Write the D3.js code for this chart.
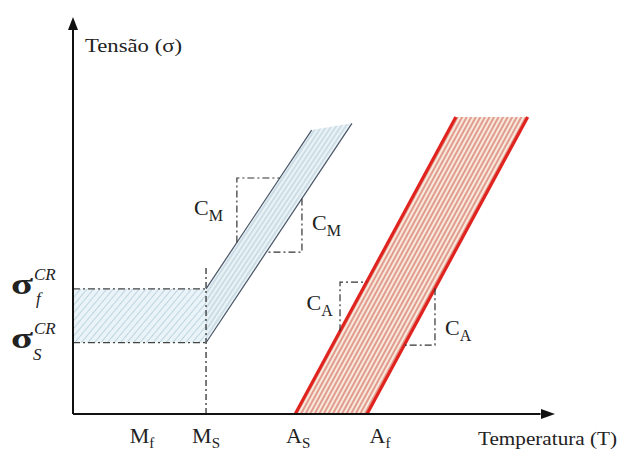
<!DOCTYPE html>
<meta charset="utf-8">
<script src="https://d3js.org/d3.v7.min.js"></script>
<style>
  body { margin: 0; background: #fff; }
  text { font-family: "Liberation Serif", "Times New Roman", serif; fill: #222; }
</style>
<body>
<div id="chart"></div>
<script>
// characteristic temperatures (arbitrary units along T)
var tempNames  = ["M", "M", "A", "A"];
var tempSubs   = ["f", "S", "S", "f"];
var tempValues = [14.3, 27.6, 46.1, 61.0];
var tempLabelShift = [0, 0, 3, 13];

// critical stresses (arbitrary units along sigma)
var stressSubs   = ["f", "S"];
var stressValues = [31.6, 18.0];

// slopes of the transformation lines
var slopeCM = 1.83, slopeCA = 2.25;
var topM = [71.7, 73.4];     // top of upper / lower martensite lines
var topA = 75;               // top of austenite band
var msLineTop = 37.6;

// slope triangle corners [T, sigma] and their labels
var cmCorners = [[34.0, 59.6], [47.5, 40.9]];
var caCorners = [[55.4, 33.3], [75.1, 17.4]];
var slopeLabels = [
  {c: "C", s: "M", t: 31.1, v: 50.3, anchor: "end"},
  {c: "C", s: "M", t: 49.6, v: 46.5, anchor: "start"},
  {c: "C", s: "A", t: 53.9, v: 26.3, anchor: "end"},
  {c: "C", s: "A", t: 77.2, v: 19.9, anchor: "start"}
];

var W = 620, H = 454;
var svg = d3.select("#chart").append("svg").attr("width", W).attr("height", H);

var x = d3.scaleLinear().domain([0, 100]).range([73, 555]);
var y = d3.scaleLinear().domain([0, 100]).range([414, 18]);

var Ms = tempValues[1], As = tempValues[2], Af = tempValues[3];
var sigF = stressValues[0], sigS = stressValues[1];

// hatch patterns
var defs = svg.append("defs");
function hatch(id, bg, fg, gap, lw, angle) {
  var p = defs.append("pattern").attr("id", id)
    .attr("patternUnits", "userSpaceOnUse")
    .attr("width", gap).attr("height", 10)
    .attr("patternTransform", "rotate(" + angle + ")");
  p.append("rect").attr("width", gap).attr("height", 10).attr("fill", bg);
  p.append("line").attr("x1", gap / 2).attr("x2", gap / 2).attr("y1", 0).attr("y2", 10)
    .attr("stroke", fg).attr("stroke-width", lw);
}
hatch("hBlue", "#eaf3f7", "#b3cddb", 5, 0.8, 40);
hatch("sBlue", "#eaf3f7", "#a3bccd", 4, 0.8, 33.5);
hatch("sRed", "#f7e9dc", "#dc8275", 4, 1.5, 28.5);

var line = d3.line().x(function(d) { return x(d[0]); }).y(function(d) { return y(d[1]); });

// martensite band (horizontal part)
svg.append("path")
  .attr("d", line([[0, sigS], [Ms, sigS], [Ms, sigF], [0, sigF]]) + "Z")
  .attr("fill", "url(#hBlue)");

// martensite band (slanted part)
var tUp = Ms + (topM[0] - sigF) / slopeCM;
var tLo = Ms + (topM[1] - sigS) / slopeCM;
svg.append("path")
  .attr("d", line([[Ms, sigS], [tLo, topM[1]], [tUp, topM[0]], [Ms, sigF]]) + "Z")
  .attr("fill", "url(#sBlue)");

// austenite band
var tAsTop = As + topA / slopeCA, tAfTop = Af + topA / slopeCA;
svg.append("path")
  .attr("d", line([[As, 0], [Af, 0], [tAfTop, topA], [tAsTop, topA]]) + "Z")
  .attr("fill", "url(#sRed)");

var dashDot = "7,3,2,3";

// critical stress lines and Ms vertical
stressValues.forEach(function(s) {
  svg.append("path").attr("d", line([[0, s], [Ms, s]]))
    .attr("stroke", "#444").attr("stroke-width", 1.3)
    .attr("stroke-dasharray", dashDot).attr("fill", "none");
});
svg.append("path").attr("d", line([[Ms, 0], [Ms, msLineTop]]))
  .attr("stroke", "#333").attr("stroke-width", 1.3)
  .attr("stroke-dasharray", "6,3,2,3").attr("fill", "none");

// martensite lines
svg.append("path").attr("d", line([[Ms, sigF], [tUp, topM[0]]]))
  .attr("stroke", "#4a5566").attr("stroke-width", 1.2).attr("fill", "none");
svg.append("path").attr("d", line([[Ms, sigS], [tLo, topM[1]]]))
  .attr("stroke", "#4a5566").attr("stroke-width", 1.2).attr("fill", "none");

// austenite lines
[[As, tAsTop], [Af, tAfTop]].forEach(function(p) {
  svg.append("path").attr("d", line([[p[0], 0], [p[1], topA]]))
    .attr("stroke", "#e0231e").attr("stroke-width", 3.2).attr("fill", "none");
});

// slope triangles
function triangle(c, t0, s0, k) {
  var sOnLine = s0 + k * (c[0] - t0);     // where the vertical meets the line
  var tOnLine = t0 + (c[1] - s0) / k;     // where the horizontal meets the line
  svg.append("path")
    .attr("d", line([[c[0], sOnLine], [c[0], c[1]], [tOnLine, c[1]]]))
    .attr("stroke", "#333").attr("stroke-width", 1.2)
    .attr("stroke-dasharray", dashDot).attr("fill", "none");
}
triangle(cmCorners[0], Ms, sigF, slopeCM);
triangle(cmCorners[1], Ms, sigS, slopeCM);
triangle(caCorners[0], As, 0, slopeCA);
triangle(caCorners[1], Af, 0, slopeCA);

slopeLabels.forEach(function(l) {
  var t = svg.append("text").attr("x", x(l.t)).attr("y", y(l.v))
    .attr("text-anchor", l.anchor).style("font-size", "22px");
  t.append("tspan").text(l.c);
  t.append("tspan").attr("dy", 6).style("font-size", "16px").text(l.s);
});

// axes
svg.append("path").attr("d", line([[0, 0], [0, 99]]))
  .attr("stroke", "#111").attr("stroke-width", 2).attr("fill", "none");
svg.append("path").attr("d", line([[0, 0], [97, 0]]))
  .attr("stroke", "#111").attr("stroke-width", 2).attr("fill", "none");
svg.append("path")
  .attr("d", "M" + x(0) + "," + (y(100) - 1) + "L" + (x(0) - 5) + "," + (y(100) + 12) +
             "L" + (x(0) + 5) + "," + (y(100) + 12) + "Z")
  .attr("fill", "#111");
svg.append("path")
  .attr("d", "M" + x(100) + "," + y(0) + "L" + (x(100) - 14) + "," + (y(0) - 5) +
             "L" + (x(100) - 14) + "," + (y(0) + 5) + "Z")
  .attr("fill", "#111");

svg.append("text").attr("x", 85).attr("y", 52).style("font-size", "19px")
  .attr("textLength", 97).attr("lengthAdjust", "spacingAndGlyphs").text("Tensão (σ)");
svg.append("text").attr("x", 478).attr("y", 445).style("font-size", "19px")
  .attr("textLength", 139).attr("lengthAdjust", "spacingAndGlyphs").text("Temperatura (T)");

// temperature labels
tempValues.forEach(function(t, i) {
  var g = svg.append("text").attr("x", x(t) + tempLabelShift[i]).attr("y", 443)
    .attr("text-anchor", "middle").style("font-size", "22px");
  g.append("tspan").text(tempNames[i]);
  g.append("tspan").attr("dy", 5).style("font-size", "15px").text(tempSubs[i]);
});

// critical stress labels
stressValues.forEach(function(s, i) {
  var yy = y(s);
  svg.append("text").attr("x", 11).attr("y", yy + 5)
    .attr("textLength", 22).attr("lengthAdjust", "spacingAndGlyphs")
    .style("font-size", "30px").style("font-weight", "bold").text("σ");
  svg.append("text").attr("x", 34).attr("y", yy - 9)
    .style("font-size", "17px").style("font-style", "italic").text("CR");
  svg.append("text").attr("x", i === 0 ? 36 : 33).attr("y", yy + (i === 0 ? 15 : 17))
    .style("font-size", "17px").style("font-style", "italic").text(stressSubs[i]);
});
</script>
</body>
